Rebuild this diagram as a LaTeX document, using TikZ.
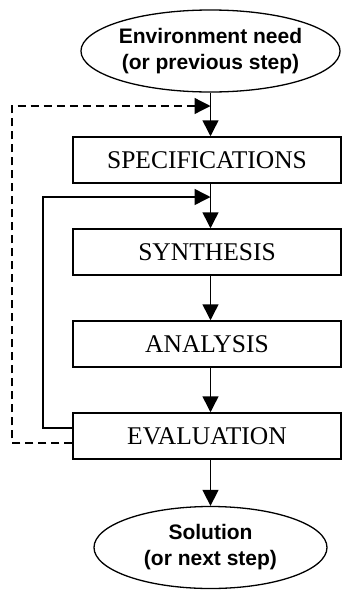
\documentclass[tikz,border=0pt]{standalone}
\usepackage{fontspec}
\setmainfont{Liberation Serif}
\newfontfamily\termfont{Liberation Sans}
\usetikzlibrary{arrows.meta,shapes.geometric,calc}
\tikzset{
  stage/.style={draw, line width=1.5pt, minimum width=268pt, minimum height=46pt, inner sep=0pt, font=\fontsize{25.5}{29}\selectfont},
  term/.style={draw, ellipse, line width=1.3pt, minimum width=233pt, minimum height=82pt, inner sep=0pt, align=center, font=\termfont\bfseries\fontsize{21}{26}\selectfont},
  flow/.style={line width=1.5pt, -{Triangle[width=16pt,length=16pt]}},
  loopback/.style={flow, dash pattern=on 8pt off 5pt, line width=1.3pt}
}

\begin{document}
\begin{tikzpicture}[x=1pt,y=-1pt]
\useasboundingbox (0,0) rectangle (342,590);
% Start and end
\node[term] (need) at (210.5,51) {Environment need\\(or previous step)};
\node[term] (sol) at (210.5,547.5) {Solution\\(or next step)};

% Design steps
\node[stage] (spec) at (207,160) {SPECIFICATIONS};
\node[stage] (synt) at (207,252) {SYNTHESIS};
\node[stage] (anal) at (207,344) {ANALYSIS};
\node[stage] (eval) at (207,436) {EVALUATION};

% Main flow
\draw[flow] (need.south) -- (need.south |- spec.north);
\draw[flow] (need.south |- spec.south) -- (need.south |- synt.north);
\draw[flow] (need.south |- synt.south) -- (need.south |- anal.north);
\draw[flow] (need.south |- anal.south) -- (need.south |- eval.north);
\draw[flow] (need.south |- eval.south) -- (sol.north);

% Feedback loops
\coordinate (inner) at (43,197);
\coordinate (outer) at (12,106);
\draw[flow] ([yshift=8pt]eval.west) -| (inner) -- (inner -| need.south);
\draw[loopback] ([yshift=-7pt]eval.west) -| (outer) -- (outer -| need.south);
\end{tikzpicture}
\end{document}
